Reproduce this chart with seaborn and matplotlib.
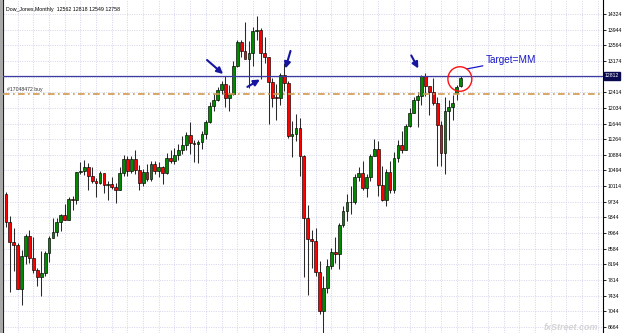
import matplotlib
matplotlib.use("Agg")
import matplotlib.pyplot as plt
import seaborn as sns
import numpy as np
import pandas as pd
from matplotlib.patches import Ellipse, Rectangle
import matplotlib.transforms as mtransforms

# ---- data: Dow_Jones monthly candles, May 2002 .. Feb 2012 ----
months = pd.date_range("2002-05-01", "2012-02-01", freq="MS")
opens = [9946, 9925, 9243, 8737, 8664, 7592, 8397, 8896,
         8342, 8054, 7891, 7992, 8480, 8850, 8985, 9234, 9416, 9275, 9801, 9782,
         10454, 10488, 10584, 10358, 10226, 10188, 10435, 10140, 10174, 10080, 10027, 10428,
         10783, 10490, 10766, 10504, 10193, 10467, 10275, 10641, 10482, 10569, 10440, 10806,
         10718, 10865, 10993, 11109, 11367, 11168, 11150, 11186, 11381, 11679, 12081, 12222,
         12463, 12622, 12269, 12354, 13063, 13628, 13409, 13212, 13358, 13896, 13930, 13372,
         13265, 12650, 12266, 12263, 12820, 12638, 11350, 11378, 11544, 10851, 9325, 8829,
         8776, 8001, 7063, 7609, 8168, 8500, 8447, 9172, 9496, 9712, 9713, 10345,
         10428, 10067, 10325, 10857, 11009, 10137, 9774, 10466, 10015, 10788, 11118, 11006,
         11578, 11892, 12226, 12320, 12811, 12570, 12414, 12143, 11614, 10913, 11955, 12046,
         12390, 12562]
highs = [10342, 9970, 9380, 9077, 8718, 8538, 8950, 9043,
         8869, 8109, 8522, 8515, 8898, 9340, 9338, 9429, 9686, 9839, 9873, 10462,
         10702, 10753, 10678, 10571, 10317, 10479, 10437, 10232, 10343, 10194, 10573, 10868,
         10854, 10842, 10984, 10630, 10542, 10656, 10720, 10719, 10702, 10595, 10932, 10985,
         11048, 11137, 11336, 11430, 11670, 11244, 11239, 11461, 11728, 12167, 12361, 12529,
         12691, 12795, 12576, 13163, 13692, 13692, 14121, 13659, 14000, 14279, 13990, 13773,
         13279, 12768, 12622, 12876, 13136, 12691, 11697, 11867, 11790, 10882, 9654, 9026,
         9088, 8280, 7924, 8325, 8588, 8877, 9199, 9630, 9918, 10119, 10406, 10580,
         10730, 10413, 10905, 11258, 11205, 10595, 10521, 10720, 10948, 11245, 11451, 11625,
         12021, 12284, 12419, 12830, 12876, 12573, 12753, 12284, 11717, 12284, 12208, 12330,
         12580, 12818]
lows = [9808, 9120, 7532, 8044, 7591, 7197, 8201, 8233,
        7990, 7673, 7416, 7909, 8264, 8850, 8900, 9009, 9274, 9275, 9537, 9682,
        10400, 10396, 10017, 10200, 9853, 10155, 9937, 9784, 10039, 9708, 10015, 10371,
        10368, 10431, 10403, 10013, 10110, 10232, 10231, 10397, 10333, 10156, 10405, 10674,
        10661, 10745, 10904, 11004, 10896, 10698, 10683, 11025, 11264, 11645, 11952, 12197,
        12375, 12051, 11939, 12340, 13021, 13266, 13261, 12518, 13045, 13692, 12743, 13127,
        11635, 12036, 11731, 12103, 12442, 11287, 10827, 11221, 10365, 7882, 7449, 8118,
        7910, 6990, 6470, 7490, 8078, 8221, 8087, 9109, 9253, 9430, 9678, 10235,
        10025, 9835, 10241, 10850, 9870, 9740, 9614, 9936, 9941, 10711, 10929, 11006,
        11555, 11892, 11555, 12093, 12309, 11862, 12093, 10604, 10597, 10405, 11231, 11736,
        12220, 12549]
closes = [9925, 9243, 8737, 8664, 7592, 8397, 8896, 8342,
          8054, 7891, 7992, 8480, 8850, 8985, 9234, 9416, 9275, 9801, 9782, 10454,
          10488, 10584, 10358, 10226, 10188, 10435, 10140, 10174, 10080, 10027, 10428, 10783,
          10490, 10766, 10504, 10193, 10467, 10275, 10641, 10482, 10569, 10440, 10806, 10718,
          10865, 10993, 11109, 11367, 11168, 11150, 11186, 11381, 11679, 12081, 12222, 12463,
          12622, 12269, 12354, 13063, 13628, 13409, 13212, 13358, 13896, 13930, 13372, 13265,
          12650, 12266, 12263, 12820, 12638, 11350, 11378, 11544, 10851, 9325, 8829, 8776,
          8001, 7063, 7609, 8168, 8500, 8447, 9172, 9496, 9712, 9713, 10345, 10428,
          10067, 10325, 10857, 11009, 10137, 9774, 10466, 10015, 10788, 11118, 11006, 11578,
          11892, 12226, 12320, 12811, 12570, 12414, 12143, 11614, 10913, 11955, 12046, 12146,
          12540, 12758]

tick_values = [14324, 13944, 13564, 13174, 12794, 12414, 12034, 11644, 11264, 10884,
               10494, 10114, 9734, 9344, 8964, 8584, 8194, 7814, 7434, 7044, 6664]
tick_labels = ["14324", "13944", "13564", "13174", "", "12414", "12034", "11644", "11264",
               "10884", "10494", "10114", "9734", "9344", "8964", "8584", "8194", "7814",
               "7434", "7044", "6664"]
hline_price = 12812
order_price = 12366
title_text = "Dow_Jones,Monthly  12562 12818 12549 12758"
order_text = "#17048472 buy"

df = pd.DataFrame({"month": months, "open": opens, "high": highs,
                   "low": lows, "close": closes})
df["i"] = np.arange(len(df))
df["up"] = df["close"] >= df["open"]

# ---- figure ----
sns.set_theme(style="white")
plt.rcParams["font.family"] = ["Liberation Sans", "DejaVu Sans"]

W, H = 625, 333
fig = plt.figure(figsize=(W / 100, H / 100), dpi=100)
ax = fig.add_axes([3 / W, 0, 600 / W, 1])
step = 3.92
ax.set_xlim((3 - 2) / step, (603 - 2) / step)
ax.set_ylim(6517.1, 14666.6)

# grid
ax.set_yticks(tick_values)
ax.set_yticklabels(tick_labels)
ax.set_xticks(np.arange(4, 154, 4))
ax.set_xticklabels([])
ax.grid(True, color="#cfcfea", lw=0.6, ls=(0, (1.2, 1.6)))
ax.set_axisbelow(True)

ax.yaxis.tick_right()
ax.tick_params(axis="y", right=True, length=2, width=0.6, pad=1.2,
               labelsize=3.7, colors="black")
ax.tick_params(axis="x", bottom=False, length=0)
for s in ["top", "bottom"]:
    ax.spines[s].set_visible(False)
for s in ["left", "right"]:
    ax.spines[s].set_color("black")
    ax.spines[s].set_linewidth(0.8)

# candles
ax.vlines(df["i"], df["low"], df["high"], color="#2a2a2a", lw=0.75, zorder=3)
body_lo = np.minimum(df["open"], df["close"])
body_h = np.maximum(np.abs(df["close"] - df["open"]), 20)
colors = np.where(df["up"], "#008a00", "#ff0000")
ax.bar(df["i"], body_h, bottom=body_lo, width=0.72, color=colors,
       edgecolor="black", linewidth=0.45, zorder=4)

# lines
blend = mtransforms.blended_transform_factory(ax.transAxes, ax.transData)
ax.axhline(hline_price, color="#3a3aa0", lw=0.9, zorder=5)
ax.axhline(order_price, color="#cf9a4e", lw=1.2, ls=(0, (4, 2, 1, 2)), zorder=5)
ax.text(0.006, order_price + 60, order_text, transform=blend,
        fontsize=3.7, color="#303030", va="bottom", ha="left")
ax.text(0.005, 1 - 10 / H, title_text, transform=ax.transAxes, fontsize=3.8,
        color="black", va="center", ha="left")

# price box for the horizontal line
ax.text(1.003, hline_price, "12812", transform=blend,
        fontsize=3.7, color="white", va="center", ha="left", zorder=10, clip_on=False,
        bbox=dict(boxstyle="square,pad=0.25", fc="#0a0a50", ec="#0a0a50"))

# annotations: arrows
arrow_kw = dict(arrowstyle="-|>", color="#1616a0", lw=1.5, mutation_scale=9,
                shrinkA=0, shrinkB=0)
arrows = [((52.3, 13198), (56.4, 12856)),
          ((62.6, 12540), (65.8, 12720)),
          ((73.6, 13420), (72.3, 12990)),
          ((104.4, 13310), (106.2, 12990))]
for tail, head in arrows:
    ax.annotate("", xy=head, xytext=tail, arrowprops=arrow_kw, zorder=8)

# red circle + target label
ax.add_patch(Ellipse((116.8, 12733), width=6.1, height=600, fill=False,
                     ec="#ff1010", lw=1.0, zorder=8))
ax.annotate("Target=MM", xy=(118.6, 12980), xytext=(123.5, 13190),
            fontsize=7.2, color="#1818c8", va="center", ha="left",
            arrowprops=dict(arrowstyle="-", color="#1818c8", lw=0.9,
                            shrinkA=0, shrinkB=0))

# window frame stripe & watermark
fig.patches.append(Rectangle((0, 0), 2 / W, 1, transform=fig.transFigure,
                             color="#a8a8a8", zorder=0))
fig.text(598 / W, 6 / H, "fxStreet.com", fontsize=6.5, color="#d4d4d4",
         style="italic", weight="bold", ha="right", va="center", zorder=1)

fig.savefig("out.png", dpi=100)
